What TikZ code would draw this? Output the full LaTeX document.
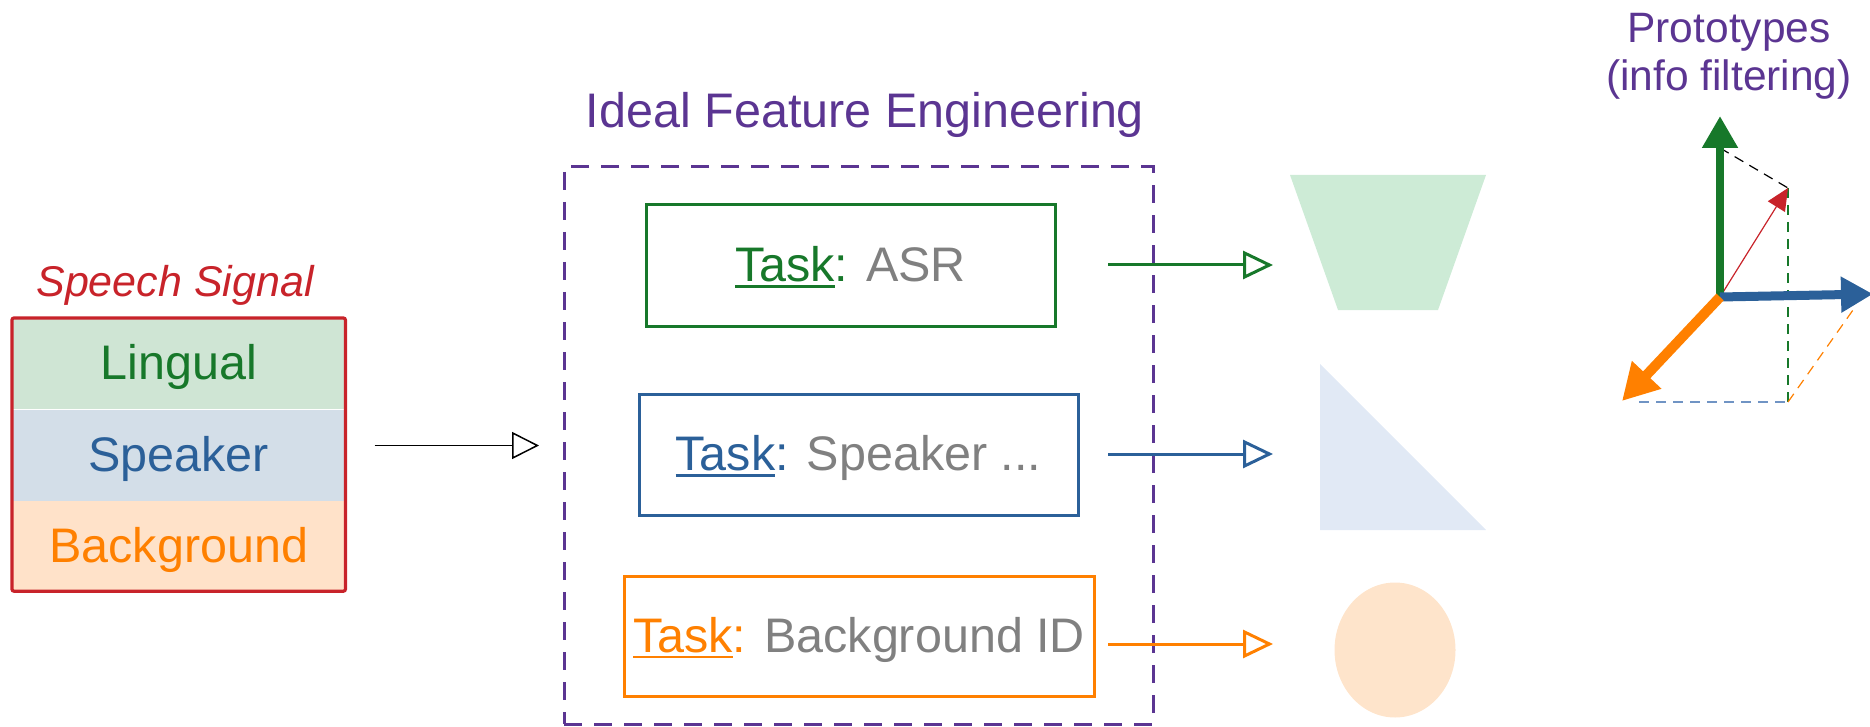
\documentclass[tikz,border=0pt]{standalone}
\usepackage{fontspec}
\setmainfont{Liberation Sans}
\usetikzlibrary{arrows.meta,fit}
\definecolor{cgreen}{HTML}{17782A}
\definecolor{cgreenL}{HTML}{CFE5D4}
\definecolor{cblue}{HTML}{2B6099}
\definecolor{cblueL}{HTML}{D3DEE8}
\definecolor{corange}{HTML}{FF8000}
\definecolor{corangeL}{HTML}{FFE2C9}
\definecolor{cred}{HTML}{C8232A}
\definecolor{cpurple}{HTML}{5B3592}
\definecolor{cgray}{HTML}{808080}
\definecolor{trapG}{HTML}{CDEBD6}
\definecolor{triB}{HTML}{E1E9F5}
\definecolor{ellO}{HTML}{FEE4CB}
\definecolor{dashB}{HTML}{7094C4}
\newcommand{\tul}[1]{\setbox0\hbox{#1}\rlap{\rule[-6pt]{\wd0}{2.5pt}}\box0}
\begin{document}
\begin{tikzpicture}[x=1pt,y=-1pt,
  big/.style={font=\fontsize{48.5}{58}\selectfont, text height=42pt, text depth=10pt},
  band/.style={big, minimum width=333pt, minimum height=91pt, inner sep=0pt, anchor=north west},
  taskbox/.style={big, draw, line width=3pt, inner sep=0pt},
  conn/.style={line width=3pt, -{Triangle[open,length=30pt,width=28pt,fill=white]}},
  guide/.style={line width=1.5pt, dash pattern=on 10pt off 7pt},
  axis/.style={-{Triangle[length=32pt,width=34pt]}}
]
\useasboundingbox (0,0) rectangle (1870,727);

% speech signal
\node[band, fill=cgreenL, text=cgreen] (lingual) at (12,318) {Lingual};
\node[band, fill=cblueL, text=cblue] (speaker) at (lingual.south west) {Speaker};
\node[band, fill=corangeL, text=corange, minimum height=90pt] (background) at (speaker.south west) {Background};
\node[draw=cred, line width=3.2pt, rounded corners=2pt, inner sep=0pt, fit=(lingual)(background)] (signal) {};
\node[font=\fontsize{43}{52}\selectfont\itshape, text=cred, inner sep=0pt] (sslabel) at (175,285) {Speech Signal};

% ideal feature engineering
\node[draw=cpurple, line width=3pt, dash pattern=on 18pt off 12pt, minimum width=589pt, minimum height=557pt, inner sep=0pt] (ife) at (858.5,445.5) {};
\node[big, text=cpurple, inner sep=0pt] (ifelabel) at (865,112) {Ideal Feature Engineering};

\node[taskbox, draw=cgreen, minimum width=409pt, minimum height=121pt] (asr) at (850.5,265.5)
  {\textcolor{cgreen}{\tul{Task}:} \textcolor{cgray}{ASR}};
\node[taskbox, draw=cblue, minimum width=439pt, minimum height=121pt] (spk) at (858.5,454.5)
  {\textcolor{cblue}{\tul{Task}:} \textcolor{cgray}{Speaker ...}};
\node[taskbox, draw=corange, minimum width=470pt, minimum height=120pt] (bid) at (859,636)
  {\textcolor{corange}{\tul{Task}:} \textcolor{cgray}{Background ID}};

% input arrow
\draw[line width=1.5pt, -{Triangle[open,length=27pt,width=27pt,fill=white]}, shorten <=27.5pt, shorten >=23.5pt]
  (signal.east |- ife.west) -- (ife.west);

% output arrows
\coordinate (g1) at (1108,265); \coordinate (g2) at (1273,265);
\coordinate (b1) at (1108,454); \coordinate (b2) at (1273,454);
\coordinate (o1) at (1108,644); \coordinate (o2) at (1273,644);
\draw[conn, cgreen] (g1) -- (g2);
\draw[conn, cblue] (b1) -- (b2);
\draw[conn, corange] (o1) -- (o2);

% prototype shapes
\fill[trapG] (1290,175) -- (1486,175) -- (1438,310) -- (1338,310) -- cycle;
\fill[triB] (1320,364) -- (1486,530) -- (1320,530) -- cycle;
\fill[ellO] (1395,650) ellipse [x radius=60.5, y radius=67.5];

% prototypes axes
\node[font=\fontsize{42.5}{48}\selectfont, text=cpurple, align=center, inner sep=0pt] (protolabel) at (1729,56) {Prototypes\\(info filtering)};
\coordinate (O) at (1720,297);
\coordinate (Gt) at (1720,116);
\coordinate (Bt) at (1873,294);
\coordinate (Ot) at (1622,401);
\coordinate (R) at (1788,188);
\coordinate (Gp) at (1720,148);
\coordinate (Bp) at (1639,402);
\coordinate (D) at (1788,402);
\coordinate (Op) at (1853,310);
\draw[guide, black, line width=1.2pt] (Gp) -- (R);
\draw[guide, cgreen, line width=1.2pt] (R) -- (D);
\draw[guide, dashB] (Bp) -- (D);
\draw[guide, corange, line width=1.2pt] (D) -- (Op);
\draw[cred, line width=1.2pt, -{Triangle[length=22pt,width=20pt]}] (O) -- (R);
\draw[axis, cgreen, line width=8pt] (O) -- (Gt);
\draw[axis, cblue, line width=9pt] (O) -- (Bt);
\draw[axis, corange, line width=10pt, -{Triangle[length=36pt,width=38pt]}] (O) -- (Ot);
\end{tikzpicture}
\end{document}
